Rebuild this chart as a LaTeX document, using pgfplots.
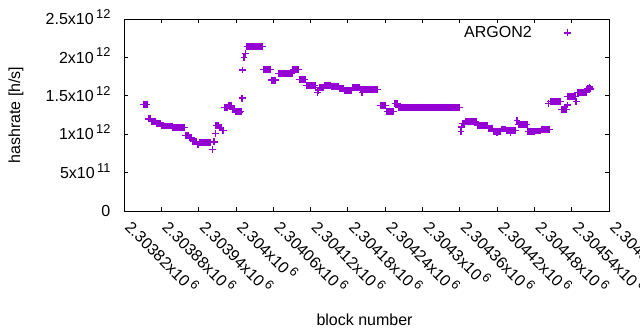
\documentclass[border=0pt]{standalone}
\usepackage{pgfplots}
\pgfplotsset{compat=1.18}
\usepackage{pgfplotstable}
\usepackage{fontspec}
\setmainfont{Liberation Sans}
\definecolor{gpviolet}{RGB}{148,0,211}
\newcommand{\sci}[2]{#1x10\hspace{1.8pt}\raisebox{0.38em}{\fontsize{9.6}{10}\selectfont #2}}
% x = block number - 2303820
\pgfplotstableread{
x y
31 1.39e12
33 1.39e12
35 1.39e12
37 1.39e12
39 1.2e12
41 1.2e12
43 1.2e12
45 1.165e12
47 1.165e12
49 1.165e12
51 1.165e12
53 1.145e12
55 1.145e12
57 1.145e12
59 1.145e12
61 1.107e12
63 1.107e12
65 1.107e12
67 1.107e12
69 1.107e12
71 1.107e12
73 1.107e12
75 1.107e12
77 1.107e12
79 1.09e12
81 1.09e12
83 1.09e12
85 1.09e12
87 1.09e12
89 1.09e12
91 1.09e12
93 1.09e12
95 1.09e12
97 1.09e12
99 0.985e12
101 0.985e12
103 0.985e12
105 0.955e12
107 0.955e12
109 0.955e12
111 0.905e12
113 0.905e12
115 0.905e12
117 0.905e12
119 0.87e12
121 0.893e12
123 0.893e12
125 0.893e12
127 0.893e12
129 0.893e12
131 0.893e12
133 0.893e12
135 0.893e12
137 0.893e12
139 0.893e12
142 0.8e12
145 0.9e12
146 0.9e12
147 1.01e12
148 1.115e12
150 1.115e12
152 1.115e12
154 1.085e12
156 1.085e12
158 1.05e12
160 1.05e12
162 1.35e12
164 1.35e12
166 1.35e12
168 1.37e12
170 1.37e12
172 1.37e12
174 1.33e12
176 1.33e12
178 1.33e12
180 1.29e12
182 1.29e12
184 1.29e12
186 1.29e12
188 1.3e12
190 1.47e12
191 1.836e12
193 2e12
195 2.05e12
198 2.145e12
200 2.145e12
202 2.145e12
204 2.145e12
206 2.145e12
208 2.145e12
210 2.145e12
212 2.145e12
214 2.145e12
216 2.145e12
218 2.145e12
220 2.145e12
222 2.145e12
225 1.845e12
227 1.845e12
229 1.845e12
231 1.845e12
233 1.845e12
235 1.845e12
237 1.705e12
239 1.705e12
241 1.705e12
243 1.705e12
248 1.79e12
250 1.79e12
252 1.79e12
254 1.79e12
256 1.79e12
258 1.79e12
260 1.79e12
262 1.79e12
264 1.79e12
266 1.79e12
268 1.79e12
270 1.79e12
272 1.84e12
274 1.84e12
276 1.84e12
278 1.84e12
280 1.84e12
283 1.715e12
285 1.715e12
287 1.715e12
289 1.715e12
291 1.715e12
293 1.632e12
295 1.632e12
297 1.632e12
299 1.632e12
301 1.632e12
303 1.632e12
305 1.632e12
307 1.632e12
311 1.545e12
312 1.575e12
314 1.605e12
316 1.605e12
318 1.605e12
320 1.605e12
322 1.635e12
324 1.635e12
326 1.635e12
328 1.635e12
330 1.635e12
332 1.635e12
334 1.625e12
336 1.625e12
338 1.625e12
340 1.625e12
342 1.625e12
344 1.625e12
347 1.6e12
349 1.6e12
351 1.6e12
353 1.6e12
355 1.567e12
357 1.567e12
359 1.567e12
361 1.567e12
363 1.567e12
365 1.567e12
367 1.606e12
369 1.606e12
371 1.606e12
373 1.606e12
375 1.606e12
377 1.606e12
379 1.606e12
381 1.585e12
383 1.585e12
383 1.545e12
385 1.585e12
387 1.585e12
389 1.585e12
391 1.585e12
393 1.585e12
395 1.585e12
397 1.585e12
399 1.585e12
401 1.585e12
403 1.585e12
405 1.585e12
407 1.585e12
412 1.37e12
414 1.37e12
416 1.37e12
418 1.37e12
420 1.37e12
423 1.295e12
425 1.295e12
427 1.295e12
429 1.295e12
431 1.295e12
433 1.295e12
436 1.4e12
438 1.4e12
440 1.4e12
442 1.35e12
444 1.35e12
446 1.35e12
448 1.35e12
450 1.35e12
452 1.35e12
454 1.35e12
456 1.35e12
458 1.35e12
460 1.35e12
462 1.35e12
464 1.35e12
466 1.35e12
468 1.35e12
470 1.35e12
472 1.35e12
474 1.35e12
476 1.35e12
478 1.35e12
480 1.35e12
482 1.35e12
484 1.35e12
486 1.35e12
488 1.35e12
490 1.35e12
492 1.35e12
494 1.35e12
496 1.35e12
498 1.35e12
500 1.35e12
502 1.35e12
504 1.35e12
506 1.35e12
508 1.35e12
510 1.35e12
512 1.35e12
514 1.35e12
516 1.35e12
518 1.35e12
520 1.35e12
522 1.35e12
524 1.35e12
526 1.35e12
528 1.35e12
530 1.35e12
532 1.35e12
534 1.35e12
536 1.35e12
538 1.35e12
540 1.35e12
542 1.033e12
543 1.095e12
544 1.142e12
546 1.142e12
548 1.142e12
550 1.168e12
552 1.168e12
554 1.168e12
556 1.168e12
558 1.168e12
560 1.168e12
562 1.168e12
564 1.168e12
566 1.168e12
568 1.111e12
570 1.111e12
572 1.111e12
574 1.111e12
576 1.111e12
578 1.111e12
580 1.111e12
582 1.111e12
584 1.111e12
586 1.077e12
588 1.077e12
590 1.077e12
592 1.077e12
594 1.04e12
596 1.04e12
598 1.04e12
600 1.04e12
600 1.02e12
602 1.04e12
604 1.04e12
606 1.04e12
608 1.068e12
610 1.068e12
612 1.068e12
614 1.068e12
616 1.05e12
618 1.05e12
620 1.05e12
622 1.05e12
622 1.02e12
624 1.05e12
626 1.05e12
628 1.05e12
630 1.05e12
632 1.18e12
634 1.13e12
636 1.13e12
638 1.13e12
640 1.13e12
642 1.13e12
644 1.13e12
646 1.13e12
648 1.13e12
650 1.035e12
652 1.035e12
654 1.035e12
656 1.035e12
658 1.035e12
660 1.035e12
662 1.042e12
664 1.042e12
666 1.042e12
668 1.042e12
670 1.042e12
672 1.065e12
674 1.065e12
676 1.065e12
678 1.065e12
680 1.065e12
682 1.065e12
684 1.065e12
683 1.4e12
686 1.428e12
688 1.428e12
690 1.428e12
692 1.428e12
694 1.428e12
696 1.428e12
698 1.428e12
700 1.428e12
702 1.428e12
704 1.326e12
706 1.326e12
708 1.326e12
710 1.326e12
712 1.326e12
713 1.38e12
714 1.493e12
716 1.493e12
718 1.493e12
720 1.493e12
722 1.493e12
724 1.493e12
726 1.493e12
727 1.423e12
730 1.547e12
732 1.547e12
734 1.547e12
736 1.547e12
738 1.547e12
740 1.547e12
742 1.547e12
744 1.547e12
746 1.59e12
748 1.59e12
750 1.59e12
749 1.615e12
}\argon

\begin{document}
\begin{tikzpicture}[font=\fontsize{12}{14}\selectfont]
\begin{axis}[
  scale only axis, width=363.75pt, height=144pt,
  at={(0pt,0pt)}, anchor=south west,
  xmin=0, xmax=780, ymin=0, ymax=2.5e12,
  axis line style={black, line width=0.6pt},
  tick style={black, line width=0.6pt},
  major tick length=3pt,
  tick align=inside,
  xtick={0,60,...,780},
  xticklabels={\sci{2.30382}{6},\sci{2.30388}{6},\sci{2.30394}{6},\sci{2.304}{6},\sci{2.30406}{6},\sci{2.30412}{6},\sci{2.30418}{6},\sci{2.30424}{6},\sci{2.3043}{6},\sci{2.30436}{6},\sci{2.30442}{6},\sci{2.30448}{6},\sci{2.30454}{6},\sci{2.3046}{6}},
  xticklabel style={rotate=-45, anchor=base west, inner sep=0pt},
  xticklabel shift=13pt,
  ytick={0,0.5e12,1e12,1.5e12,2e12,2.5e12},
  scaled y ticks=false,
  yticklabels={0,\sci{5}{11},\sci{1}{12},\sci{1.5}{12},\sci{2}{12},\sci{2.5}{12}},
  yticklabel style={anchor=base east, inner sep=0pt, xshift=-10pt, yshift=-4.2pt},
  xlabel={block number},
  xlabel style={at={(axis description cs:0.496,-0.597)}, anchor=base},
  ylabel={hashrate [h/s]},
  ylabel style={at={(axis description cs:-0.2227,0.5)}, anchor=center},
  legend plot pos=right,
  legend image code/.code={\draw[#1] plot coordinates {(0pt,0pt)};},
  legend style={draw=none, fill=none, at={(1,1)}, anchor=north east,
    xshift=-28.5pt, yshift=-5.25pt, inner sep=0pt, column sep=24pt,
    nodes={inner sep=0pt}},
  legend cell align=right,
]
\addplot[only marks, mark=+, mark size=2.6pt, line width=1pt, color=gpviolet]
  table[x=x, y=y]{\argon};
\addlegendentry{ARGON2}
\end{axis}
\pgfresetboundingbox
\useasboundingbox (-93pt,-89.25pt) rectangle (387pt,158.25pt);
\end{tikzpicture}
\end{document}
